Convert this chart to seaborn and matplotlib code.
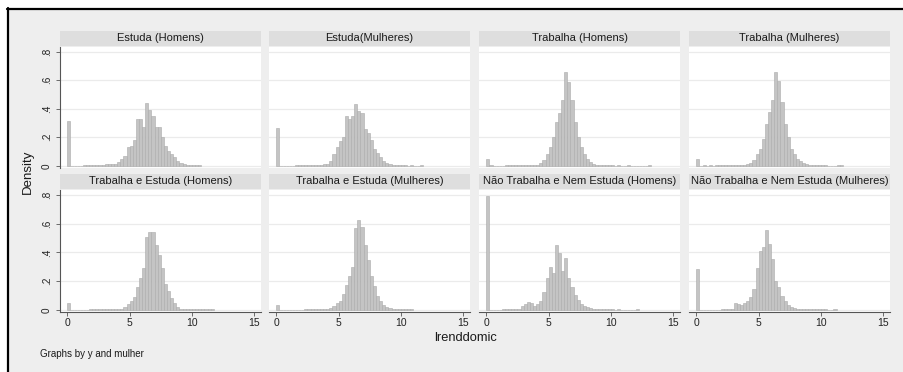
import numpy as np
import pandas as pd
import matplotlib.pyplot as plt
import seaborn as sns
from matplotlib.patches import Rectangle
from matplotlib.lines import Line2D

sns.set_theme(style='white')
plt.rcParams['font.family'] = ['Liberation Sans', 'DejaVu Sans']

# density per bin, bins of width 0.25 starting at 0
bin_width = 0.25

estuda_homens = [0.316, 0, 0, 0, 0, 0.002, 0.002, 0.003, 0.004, 0.005, 0.006, 0.008,
                 0.012, 0.01, 0.01, 0.01, 0.023, 0.045, 0.065, 0.13, 0.14, 0.18, 0.325,
                 0.325, 0.27, 0.44, 0.39, 0.35, 0.27, 0.27, 0.2, 0.14, 0.105, 0.08, 0.06,
                 0.03, 0.016, 0.01, 0.005, 0.004, 0.003, 0.002, 0.003]
estuda_mulheres = [0.267, 0, 0, 0, 0, 0, 0.002, 0.003, 0.003, 0.003, 0.003, 0.004,
                   0.006, 0.007, 0.008, 0.01, 0.015, 0.03, 0.08, 0.13, 0.17, 0.2, 0.35,
                   0.33, 0.35, 0.43, 0.385, 0.37, 0.26, 0.23, 0.18, 0.12, 0.09, 0.06, 0.035,
                   0.016, 0.01, 0.005, 0.004, 0.004, 0.003, 0.003, 0, 0.002, 0, 0, 0.002]
trabalha_homens = [0.05, 0.004, 0, 0, 0, 0, 0.002, 0.002, 0.002, 0.002, 0.002, 0.002,
                   0.003, 0.004, 0.005, 0.006, 0.008, 0.016, 0.04, 0.08, 0.13, 0.2, 0.31,
                   0.37, 0.46, 0.655, 0.585, 0.46, 0.31, 0.2, 0.13, 0.08, 0.045, 0.025,
                   0.012, 0.007, 0.004, 0.003, 0.003, 0.002, 0.002, 0, 0.002, 0, 0, 0.003,
                   0, 0, 0, 0, 0, 0, 0.003]
trabalha_mulheres = [0.05, 0, 0.004, 0, 0.004, 0, 0.002, 0.002, 0.002, 0.002, 0.002, 0.002,
                     0.004, 0.005, 0.006, 0.008, 0.01, 0.02, 0.04, 0.08, 0.115, 0.185, 0.29,
                     0.38, 0.46, 0.655, 0.595, 0.45, 0.29, 0.2, 0.115, 0.08, 0.05, 0.03,
                     0.016, 0.01, 0.005, 0.004, 0.003, 0.003, 0.002, 0.002, 0, 0, 0, 0.003,
                     0.003]
trab_estuda_homens = [0.045, 0, 0, 0, 0, 0, 0, 0.002, 0.002, 0.002, 0.002, 0.002,
                      0.002, 0.002, 0.002, 0.002, 0.002, 0.005, 0.02, 0.04, 0.06, 0.09, 0.16,
                      0.22, 0.29, 0.51, 0.545, 0.54, 0.45, 0.38, 0.29, 0.18, 0.13, 0.08, 0.05,
                      0.02, 0.008, 0.003, 0.002, 0.002, 0.002, 0.002, 0.002, 0.002, 0.002,
                      0.002, 0.002]
trab_estuda_mulheres = [0.03, 0, 0, 0, 0, 0, 0, 0, 0, 0.002, 0.002, 0.002,
                        0.002, 0.002, 0.002, 0.004, 0.006, 0.012, 0.023, 0.046, 0.058, 0.11,
                        0.174, 0.237, 0.3, 0.57, 0.626, 0.575, 0.45, 0.35, 0.237, 0.167, 0.097,
                        0.058, 0.035, 0.02, 0.01, 0.005, 0.002, 0.002, 0.002, 0.002, 0.002,
                        0.002]
nao_homens = [0.79, 0, 0, 0, 0, 0.002, 0.002, 0.002, 0.002, 0.002, 0.005, 0.023,
              0.04, 0.055, 0.044, 0.028, 0.04, 0.058, 0.12, 0.22, 0.295, 0.255, 0.45,
              0.395, 0.27, 0.36, 0.22, 0.16, 0.1, 0.065, 0.04, 0.028, 0.016, 0.012, 0.006,
              0.003, 0.003, 0.003, 0.003, 0.003, 0.003, 0, 0.002, 0, 0, 0, 0, 0, 0.003]
nao_mulheres = [0.285, 0, 0, 0, 0, 0, 0, 0, 0.002, 0.002, 0.002, 0.002,
                0.048, 0.04, 0.03, 0.045, 0.06, 0.088, 0.146, 0.29, 0.41, 0.435, 0.555,
                0.46, 0.356, 0.2, 0.157, 0.095, 0.06, 0.032, 0.018, 0.01, 0.006, 0.003,
                0.003, 0.003, 0.003, 0.003, 0.003, 0.003, 0.003, 0.003, 0, 0, 0.002]

titles = ['Estuda (Homens)', 'Estuda(Mulheres)', 'Trabalha (Homens)', 'Trabalha (Mulheres)',
          'Trabalha e Estuda (Homens)', 'Trabalha e Estuda (Mulheres)',
          'Não Trabalha e Nem Estuda (Homens)', 'Não Trabalha e Nem Estuda (Mulheres)']
panels = [estuda_homens, estuda_mulheres, trabalha_homens, trabalha_mulheres,
          trab_estuda_homens, trab_estuda_mulheres, nao_homens, nao_mulheres]

y_ticks = [0, 0.2, 0.4, 0.6, 0.8]
y_tick_labels = ['0', '.2', '.4', '.6', '.8']
x_ticks = [0, 5, 10, 15]

W, H = 904, 372
fig = plt.figure(figsize=(W / 100, H / 100), dpi=100)
fig.patch.set_facecolor('white')

# graph region background + frame (screenshot edge)
fig.add_artist(Rectangle((9 / W, 0), (W - 9) / W, (H - 10) / H, transform=fig.transFigure,
                         facecolor='#eeeeee', edgecolor='none', zorder=-5))
fig.add_artist(Line2D([7 / W, 1], [1 - 8.8 / H, 1 - 8.8 / H], transform=fig.transFigure,
                      color='black', linewidth=1.6, zorder=-4))
fig.add_artist(Line2D([8 / W, 8 / W], [0, 1 - 8 / H], transform=fig.transFigure,
                      color='black', linewidth=1.6, zorder=-4))


def px_axes(x0, y0, x1, y1):
    return fig.add_axes([x0 / W, 1 - y1 / H, (x1 - x0) / W, (y1 - y0) / H])


col_left = [60, 269, 479, 689]
col_w = 201
rows = [(31, 45.7, 46.7, 167.7), (174, 189, 190, 311.7)]

for k, (title, heights) in enumerate(zip(titles, panels)):
    r, c = divmod(k, 4)
    s0, s1, p0, p1 = rows[r]
    x0 = col_left[c]

    # strip header
    sax = px_axes(x0, s0, x0 + col_w, s1)
    sax.set_facecolor('#dedede')
    sax.set_xticks([])
    sax.set_yticks([])
    for sp in sax.spines.values():
        sp.set_visible(False)
    sax.text(0.5, 0.5, title, ha='center', va='center', fontsize=8, color='#1a1a1a',
             transform=sax.transAxes)

    ax = px_axes(x0, p0, x0 + col_w, p1)
    ax.set_facecolor('white')
    n = len(heights)
    df = pd.DataFrame({'x': (np.arange(n) + 0.5) * bin_width, 'density': heights})
    sns.histplot(data=df, x='x', weights='density', binwidth=bin_width,
                 binrange=(0, n * bin_width), stat='count', ax=ax,
                 color='#c4c4c4', edgecolor='#aaaaaa', linewidth=0.4, alpha=1)
    ax.set_xlim(-0.585, 15.54)
    ax.set_ylim(-0.014, 0.835)
    ax.set_xlabel('')
    ax.set_ylabel('')
    ax.set_yticks(y_ticks)
    ax.yaxis.grid(True, color='#ebebeb', linewidth=0.9)
    ax.set_axisbelow(True)
    for sp in ax.spines.values():
        sp.set_visible(False)

    if c == 0:
        ax.spines['left'].set_visible(True)
        ax.spines['left'].set_color('#555555')
        ax.spines['left'].set_linewidth(0.8)
        ax.set_yticklabels(y_tick_labels, rotation=90, va='center', fontsize=7.2,
                           color='#222222')
        ax.tick_params(axis='y', left=True, length=3, width=0.6, color='#555555', pad=3)
    else:
        ax.tick_params(axis='y', left=False, labelleft=False)

    ax.set_xticks(x_ticks)
    if r == 1:
        ax.spines['bottom'].set_visible(True)
        ax.spines['bottom'].set_color('#555555')
        ax.spines['bottom'].set_linewidth(0.8)
        ax.set_xticklabels([str(t) for t in x_ticks], fontsize=7.5, color='#222222')
        ax.tick_params(axis='x', bottom=True, length=3, width=0.6, color='#555555', pad=1.5)
    else:
        ax.tick_params(axis='x', bottom=False, labelbottom=False)

fig.text(28 / W, 1 - 172 / H, 'Density', rotation=90, ha='center', va='center',
         fontsize=9.5, color='#1a1a1a')
fig.text(466 / W, 1 - 338 / H, 'lrenddomic', ha='center', va='center',
         fontsize=9.3, color='#1a1a1a')
fig.text(40 / W, 1 - 354 / H, 'Graphs by y and mulher', ha='left', va='center',
         fontsize=7, color='#1a1a1a')

fig.savefig('out.png', dpi=100)
